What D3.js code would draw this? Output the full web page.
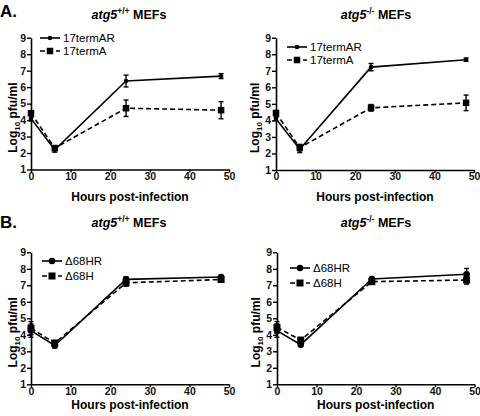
<!DOCTYPE html>
<html><head><meta charset="utf-8">
<script src="https://cdn.jsdelivr.net/npm/d3@7"></script>
<style>
body{margin:0;background:#fff;}
svg{display:block;font-family:"Liberation Sans",Arial,Helvetica,sans-serif;}
</style></head>
<body><svg id="c" width="480" height="416"></svg>
<script>
// ---- data ----
const hours = [0, 6, 24, 48];
const xTicks = [0, 10, 20, 30, 40, 50];
const yTicks = [1, 2, 3, 4, 5, 6, 7, 8, 9];

const aWtAR = [4.1, 2.2, 6.37, 6.67];
const aWtARErr = [0.15, 0.15, 0.36, 0.15];
const aWtA = [4.42, 2.3, 4.72, 4.6];
const aWtAErr = [0.12, 0.15, 0.5, 0.52];

const aKoAR = [4.1, 2.25, 7.22, 7.67];
const aKoARErr = [0.12, 0.2, 0.22, 0.1];
const aKoA = [4.45, 2.35, 4.76, 5.06];
const aKoAErr = [0.12, 0.2, 0.2, 0.47];

const bWtHR = [4.25, 3.35, 7.36, 7.5];
const bWtHRErr = [0.4, 0.15, 0.15, 0.1];
const bWtH = [4.4, 3.5, 7.15, 7.35];
const bWtHErr = [0.4, 0.15, 0.2, 0.1];

const bKoHR = [4.25, 3.4, 7.38, 7.67];
const bKoHRErr = [0.4, 0.1, 0.1, 0.35];
const bKoH = [4.45, 3.68, 7.22, 7.32];
const bKoHErr = [0.35, 0.15, 0.15, 0.25];

const seriesNamesA = ["17termAR", "17termA"];
const seriesNamesB = ["\u039468HR", "\u039468H"];

// ---- layout ----
const panels = [
  {x0:31, x1:229, yb:169.5, yt:37.7, sup:"+/+", tx:129, ty:19, ylx:17, xly:201, lx:40, ly:[38,51], names:seriesNamesA,
   s:[[aWtAR,aWtARErr],[aWtA,aWtAErr]], r:2.3, sq:6.5},
  {x0:276, x1:474, yb:170, yt:37.7, sup:"-/-", tx:376, ty:19, ylx:259, xly:201, lx:287, ly:[47,60], names:seriesNamesA,
   s:[[aKoAR,aKoARErr],[aKoA,aKoAErr]], r:2.3, sq:6.5},
  {x0:31, x1:229, yb:384.3, yt:252.3, sup:"+/+", tx:129, ty:227, ylx:17, xly:408.5, lx:42, ly:[261,276], names:seriesNamesB,
   s:[[bWtHR,bWtHRErr],[bWtH,bWtHErr]], r:3.3, sq:7},
  {x0:277, x1:474.5, yb:384.3, yt:252.3, sup:"-/-", tx:376, ty:227, ylx:260, xly:408.5, lx:290, ly:[268,283], names:seriesNamesB,
   s:[[bKoHR,bKoHRErr],[bKoH,bKoHErr]], r:3.3, sq:7}
];

const svg = d3.select("#c");
svg.append("text").attr("x",0).attr("y",17).attr("font-size",17).attr("font-weight","bold").text("A.");
svg.append("text").attr("x",0).attr("y",228).attr("font-size",17).attr("font-weight","bold").text("B.");

panels.forEach(p => {
  const g = svg.append("g");
  const x = d3.scaleLinear().domain([0,50]).range([p.x0,p.x1]);
  const y = d3.scaleLinear().domain([1,9]).range([p.yb,p.yt]);

  // axes
  const ax = g.append("g").attr("transform",`translate(0,${p.yb})`)
    .call(d3.axisBottom(x).tickValues(xTicks).tickSize(3).tickPadding(0).tickSizeOuter(0));
  const ay = g.append("g").attr("transform",`translate(${p.x0},0)`)
    .call(d3.axisLeft(y).tickValues(yTicks).tickSize(4).tickPadding(1).tickSizeOuter(0));
  [ax,ay].forEach(a=>{
    a.select(".domain").attr("stroke","#000").attr("stroke-width",1.6);
    a.selectAll(".tick line").attr("stroke","#000").attr("stroke-width",1.4);
    a.selectAll(".tick text").attr("font-size",10.5).attr("font-weight","bold")
      .attr("font-family","Liberation Sans, Arial, sans-serif").attr("fill","#111");
  });

  // title
  const t = g.append("text").attr("x",p.tx).attr("y",p.ty).attr("text-anchor","middle")
    .attr("font-size",12.5).attr("font-weight","bold");
  t.append("tspan").attr("font-style","italic").text("atg5");
  t.append("tspan").attr("font-size",8.5).attr("dy",-5).text(p.sup);
  t.append("tspan").attr("dy",5).text(" MEFs");

  // y label
  const yl = g.append("text").attr("transform",`translate(${p.ylx},${(p.yt+p.yb)/2+14}) rotate(-90)`)
    .attr("text-anchor","middle").attr("font-size",12).attr("font-weight","bold");
  yl.append("tspan").text("Log");
  yl.append("tspan").attr("font-size",8).attr("dy",2.5).text("10");
  yl.append("tspan").attr("dy",-2.5).text(" pfu/ml");

  // x label
  g.append("text").attr("x",(p.x0+p.x1)/2).attr("y",p.xly).attr("text-anchor","middle")
    .attr("font-size",12).attr("font-weight","bold").text("Hours post-infection");

  // series
  p.s.forEach((sd,si)=>{
    const [vals, errs] = sd;
    const pts = hours.map((h,i)=>({h, v:vals[i], e:errs[i]}));
    const line = d3.line().x(d=>x(d.h)).y(d=>y(d.v));
    g.append("path").datum(pts).attr("d",line).attr("fill","none").attr("stroke","#000")
      .attr("stroke-width",1.6).attr("stroke-dasharray", si===1 ? "5,3" : null);
    // error bars
    pts.forEach(d=>{
      const cx = x(d.h), ytop = y(d.v+d.e), ybot = y(d.v-d.e);
      g.append("line").attr("x1",cx).attr("x2",cx).attr("y1",ytop).attr("y2",ybot).attr("stroke","#000").attr("stroke-width",1.4);
      [ytop,ybot].forEach(yy=>g.append("line").attr("x1",cx-2.5).attr("x2",cx+2.5).attr("y1",yy).attr("y2",yy).attr("stroke","#000").attr("stroke-width",1.4));
    });
    // markers
    pts.forEach(d=>{
      if(si===0) g.append("circle").attr("cx",x(d.h)).attr("cy",y(d.v)).attr("r",p.r).attr("fill","#000");
      else g.append("rect").attr("x",x(d.h)-p.sq/2).attr("y",y(d.v)-p.sq/2).attr("width",p.sq).attr("height",p.sq).attr("fill","#000");
    });
    // legend
    const ly = p.ly[si];
    g.append("line").attr("x1",p.lx).attr("x2",p.lx+20).attr("y1",ly).attr("y2",ly).attr("stroke","#000")
      .attr("stroke-width",1.6).attr("stroke-dasharray", si===1 ? "5,3" : null);
    if(si===0) g.append("circle").attr("cx",p.lx+10).attr("cy",ly).attr("r",p.r).attr("fill","#000");
    else g.append("rect").attr("x",p.lx+10-p.sq/2).attr("y",ly-p.sq/2).attr("width",p.sq).attr("height",p.sq).attr("fill","#000");
    g.append("text").attr("x",p.lx+23).attr("y",ly+4).attr("font-size",11.5).text(p.names[si]);
  });
});
</script></body></html>
